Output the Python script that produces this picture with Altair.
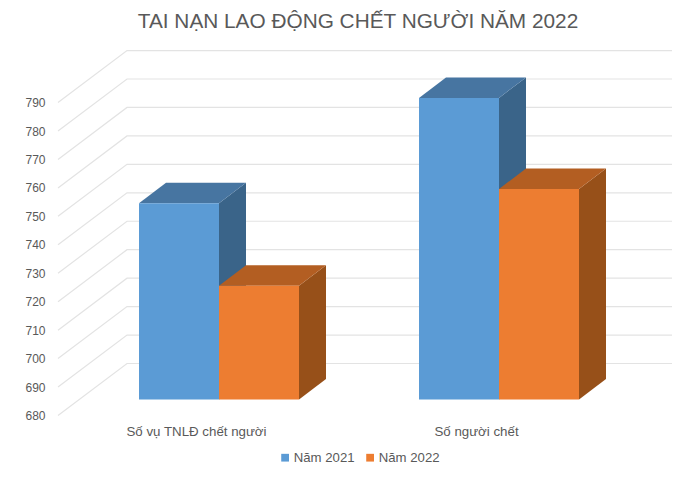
import altair as alt
import pandas as pd

# ---- values
categories = ["Số vụ TNLĐ chết người", "Số người chết"]
series = ["Năm 2021", "Năm 2022"]
values_2021 = [749, 786]
values_2022 = [720, 754]
ticks = [680, 690, 700, 710, 720, 730, 740, 750, 760, 770, 780, 790]
title = "TAI NẠN LAO ĐỘNG CHẾT NGƯỜI NĂM 2022"

# ---- colours
front = ["#5B9BD5", "#ED7D31"]
side = ["#3A6489", "#975019"]
top = ["#4775A1", "#B35E22"]
GRID = "#E3E3E3"
TEXT = "#595959"
FONT = "Liberation Sans"

# ---- chart geometry (page pixels)
W, H, PT = 664, 425, 36
PX_PER_VALUE = 2.845
PX_PER_GROUP = 280.0
Y0_PAGE = 415.5            # where value 680 meets the front edge of the floor
y_domain = [680 - (8 + PT + H - Y0_PAGE) / PX_PER_VALUE,
            680 + (Y0_PAGE - (8 + PT)) / PX_PER_VALUE]
X0_PAGE = 219.0            # centre of the first cluster
x_domain = [(8 - X0_PAGE) / PX_PER_GROUP, (8 + W - X0_PAGE) / PX_PER_GROUP]

BAR_W = 80 / PX_PER_GROUP
BAR_DX = 27 / PX_PER_GROUP
BAR_DV = 20.5 / PX_PER_VALUE
BASE_SHIFT = 16.0 / PX_PER_VALUE    # bar foot sits this far "into" the floor
WALL_DX = 69 / PX_PER_GROUP
WALL_DV = 52 / PX_PER_VALUE
WALL_X_FRONT = (58 - X0_PAGE) / PX_PER_GROUP
WALL_X_END = x_domain[1]
LABEL_SHIFT = -22.5 / PX_PER_GROUP

x_scale = alt.Scale(domain=x_domain, nice=False, zero=False)
y_scale = alt.Scale(domain=y_domain, nice=False, zero=False)
X = alt.X("x:Q", scale=x_scale, axis=None)
Y_AXIS = alt.Axis(
    values=ticks, orient="left", offset=-37, grid=False, domain=False, ticks=False,
    title=None, labelPadding=0, labelFontSize=12, labelColor=TEXT, labelFont=FONT,
    format="d")
Y_PLAIN = alt.Y("y:Q", scale=y_scale, axis=Y_AXIS)

# ---- gridlines: diagonal on the side wall, then along the back wall
grid_rows = []
for t in ticks:
    grid_rows += [
        {"tick": t, "o": 0, "x": WALL_X_FRONT, "y": t},
        {"tick": t, "o": 1, "x": WALL_X_FRONT + WALL_DX, "y": t + WALL_DV},
        {"tick": t, "o": 2, "x": WALL_X_END, "y": t + WALL_DV},
    ]
grid = alt.Chart(pd.DataFrame(grid_rows)).mark_line(
    color=GRID, strokeWidth=1.2, clip=False
).encode(x=X, y=Y_PLAIN, detail="tick:N", order="o:Q")

# ---- bars
layers = [grid]
for s_idx, (s, vals) in enumerate(zip(series, [values_2021, values_2022])):
    side_rows, top_rows, front_rows = [], [], []
    for c_idx, v in enumerate(vals):
        x0 = c_idx + (s_idx - 1) * BAR_W
        x1 = x0 + BAR_W
        base = 680 + BASE_SHIFT
        v_page = v + BASE_SHIFT
        front_rows.append({"series": s, "x": x0, "x1": x1, "y": base, "y1": v_page})
        side_rows += [
            {"c": c_idx, "x": x1, "y": base, "y1": v_page},
            {"c": c_idx, "x": x1 + BAR_DX, "y": base + BAR_DV, "y1": v_page + BAR_DV},
        ]
        top_rows += [
            {"c": c_idx, "x": x0, "y": v_page, "y1": v_page},
            {"c": c_idx, "x": x0 + BAR_DX, "y": v_page, "y1": v_page + BAR_DV},
            {"c": c_idx, "x": x1, "y": v_page, "y1": v_page + BAR_DV},
            {"c": c_idx, "x": x1 + BAR_DX, "y": v_page + BAR_DV, "y1": v_page + BAR_DV},
        ]
    layers.append(alt.Chart(pd.DataFrame(side_rows)).mark_area(color=side[s_idx], clip=False).encode(
        x=X, y=Y_PLAIN, y2="y1:Q", detail="c:N"))
    layers.append(alt.Chart(pd.DataFrame(top_rows)).mark_area(color=top[s_idx], clip=False).encode(
        x=X, y=Y_PLAIN, y2="y1:Q", detail="c:N"))
    layers.append(alt.Chart(pd.DataFrame(front_rows)).mark_rect(clip=False).encode(
        x=X, x2="x1:Q", y=Y_PLAIN, y2="y1:Q",
        color=alt.Color("series:N", scale=alt.Scale(domain=series, range=front),
                        legend=alt.Legend(
                            orient="none", legendX=270.5, legendY=407, direction="horizontal",
                            title=None, symbolType="square", symbolSize=60, symbolStrokeWidth=0,
                            labelFontSize=13.2, labelColor=TEXT, labelFont=FONT,
                            columnPadding=8, labelOffset=2, padding=0)),
    ))

# ---- category labels
cat_df = pd.DataFrame({"x": [i + LABEL_SHIFT for i in range(len(categories))],
                       "y": [680 - 16 / PX_PER_VALUE] * len(categories),
                       "label": categories})
cat_text = alt.Chart(cat_df).mark_text(
    fontSize=13.3, color=TEXT, font=FONT, baseline="middle", align="center"
).encode(x=X, y=Y_PLAIN, text="label:N")
layers.append(cat_text)

chart = alt.layer(*layers).properties(
    width=W, height=H,
    padding={"left": 0, "right": 0, "top": PT, "bottom": 0},
    autosize=alt.AutoSizeParams(type="none"),
    title=alt.TitleParams(title, fontSize=20.8, font=FONT, fontWeight="normal", color=TEXT,
                          anchor="middle", dx=18, offset=11),
).resolve_scale(color="shared").configure_view(stroke=None)

chart.save("out.html", embed_options={"renderer": "svg", "actions": False})
